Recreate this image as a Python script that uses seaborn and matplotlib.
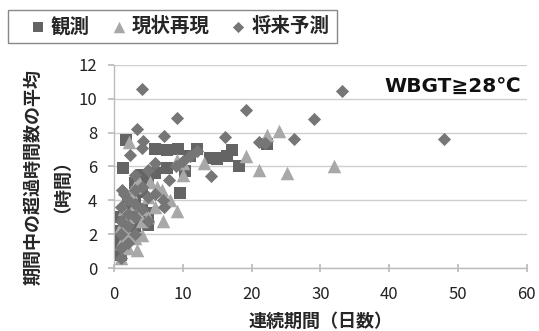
import numpy as np
import pandas as pd
import seaborn as sns
import matplotlib.pyplot as plt
from matplotlib.patches import Rectangle

# 観測 (observed)
obs_x = [1, 1, 1, 1, 1.5, 2, 2, 2, 2, 3, 3, 3, 3, 4, 4, 4, 5, 5, 5, 6, 6, 7.7, 7.7,
         9.3, 9.6, 10.3, 11.1, 12.1, 14, 14.9, 15, 16.4, 17.1, 18.2, 22.3, 1.3, 1.8]
obs_y = [0.8, 1.5, 2.2, 3.0, 3.0, 2.8, 3.5, 1.8, 4.2, 3.0, 4.0, 2.5, 5.0, 3.5, 4.5, 5.5,
         2.55, 3.25, 5.0, 7.05, 5.6, 5.9, 7.0, 7.05, 4.45, 5.75, 6.6, 7.05, 6.5, 6.45,
         6.5, 6.6, 7.0, 6.0, 7.3, 5.9, 7.55]

# 現状再現 (present-climate reproduction)
sim_x = [1, 1, 1, 1.5, 2, 2, 2, 2.5, 3, 3, 3, 3.3, 4, 4, 4, 5, 5, 5.2, 6.2, 6, 7.1,
         8.1, 9.1, 9.1, 10, 13.1, 19.2, 21.1, 22.2, 24, 25.1, 32, 2.2, 3.5, 7, 10]
sim_y = [0.6, 1.5, 2.5, 3.5, 1.2, 2.0, 3.0, 4.5, 1.8, 3.8, 4.8, 1.05, 1.95, 2.8, 3.5,
         3.0, 4.2, 5.1, 4.8, 3.6, 2.8, 4.0, 3.4, 6.4, 5.5, 6.2, 6.6, 5.8, 7.85, 8.07,
         5.6, 6.0, 7.45, 5.2, 4.6, 6.2]

# 将来予測 (future projection)
fut_x = [1, 1, 1, 1, 1, 1.1, 1.5, 2, 2, 2, 2, 2.3, 3.3, 3, 3, 3, 3, 3, 4, 4.2, 4, 4, 4,
         5, 5, 5, 6, 6, 7.2, 7.1, 7.3, 8, 9.1, 9, 10, 11, 12, 14.1, 16.2, 19.2, 21.1,
         22, 26.2, 29.1, 33.2, 47.9]
fut_y = [0.6, 1.2, 2.0, 2.8, 3.6, 4.6, 4.4, 1.5, 2.5, 3.2, 4.0, 6.7, 8.2, 2.0, 3.0, 3.8,
         4.6, 5.5, 10.6, 7.5, 7.1, 3.5, 4.8, 2.8, 4.2, 5.8, 6.2, 4.4, 7.8, 4.0, 3.6, 5.2,
         8.87, 6.0, 6.3, 6.6, 6.9, 5.44, 7.75, 9.35, 7.45, 7.4, 7.63, 8.8, 10.47, 7.63]

series_names = ['観測', '現状再現', '将来予測']
x_ticks = [0, 10, 20, 30, 40, 50, 60]
y_ticks = [0, 2, 4, 6, 8, 10, 12]

df = pd.concat([
    pd.DataFrame({'x': obs_x, 'y': obs_y, 'series': series_names[0]}),
    pd.DataFrame({'x': sim_x, 'y': sim_y, 'series': series_names[1]}),
    pd.DataFrame({'x': fut_x, 'y': fut_y, 'series': series_names[2]}),
])

sns.set_theme(style='white')
plt.rcParams['font.family'] = ['Noto Sans CJK JP', 'DejaVu Sans']

fig = plt.figure(figsize=(5.39, 3.31), dpi=100)
ax = fig.add_axes([0.2115, 0.19, 0.766, 0.614])

styles = {
    '観測': dict(marker='s', color='#646464', s=85),
    '現状再現': dict(marker='^', color='#a8a8a8', s=95),
    '将来予測': dict(marker='D', color='#767676', s=45),
}
for name in series_names:
    st = styles[name]
    sns.scatterplot(data=df[df['series'] == name], x='x', y='y', ax=ax,
                    marker=st['marker'], color=st['color'], s=st['s'],
                    linewidth=0, label=name, legend=False, zorder=3)

ax.set_xlim(0, 60)
ax.set_ylim(0, 12)
ax.set_xticks(x_ticks)
ax.set_yticks(y_ticks)
ax.yaxis.grid(True, color='#cfcfcf', linewidth=1)
ax.xaxis.grid(False)
for side in ['top', 'right']:
    ax.spines[side].set_visible(False)
for side in ['left', 'bottom']:
    ax.spines[side].set_color('#bcbcbc')
    ax.spines[side].set_linewidth(1)
ax.tick_params(axis='x', which='both', direction='inout', length=6, color='#bcbcbc',
               labelsize=12, labelcolor='#222222', bottom=True, pad=10)
ax.tick_params(axis='y', which='both', direction='out', length=4, color='#bcbcbc',
               labelsize=12, labelcolor='#222222', left=True, pad=8)

ax.set_xlabel('連続期間（日数）', fontsize=13, fontweight='bold', labelpad=6)
ax.set_ylabel('期間中の超過時間数の平均\n（時間）', fontsize=13, fontweight='bold',
              linespacing=1.0)
ax.yaxis.set_label_coords(-0.126, 0.45)

ax.text(0.985, 0.89, 'WBGT≧28℃', transform=ax.transAxes, ha='right', va='center',
        fontsize=14.5, fontweight='bold', color='#111111',
        family=['DejaVu Sans', 'Noto Sans CJK JP'])

# legend box drawn separately so the entries can be spaced like the original
fig.patches.append(Rectangle((8 / 539, 1 - 43 / 331), 329 / 539, 33 / 331,
                             transform=fig.transFigure, fill=False,
                             edgecolor='#888888', linewidth=1))
handles, labels = ax.get_legend_handles_labels()
leg = fig.legend(handles, labels, loc='center left',
                 bbox_to_anchor=(30.5 / 539, 1 - 26.5 / 331),
                 ncol=3, frameon=False, fontsize=14, handletextpad=0.3,
                 columnspacing=1.1, borderpad=0, borderaxespad=0,
                 markerscale=0.85, handlelength=0.75)
for t in leg.get_texts():
    t.set_fontweight('bold')

fig.savefig('out.png', dpi=100)
